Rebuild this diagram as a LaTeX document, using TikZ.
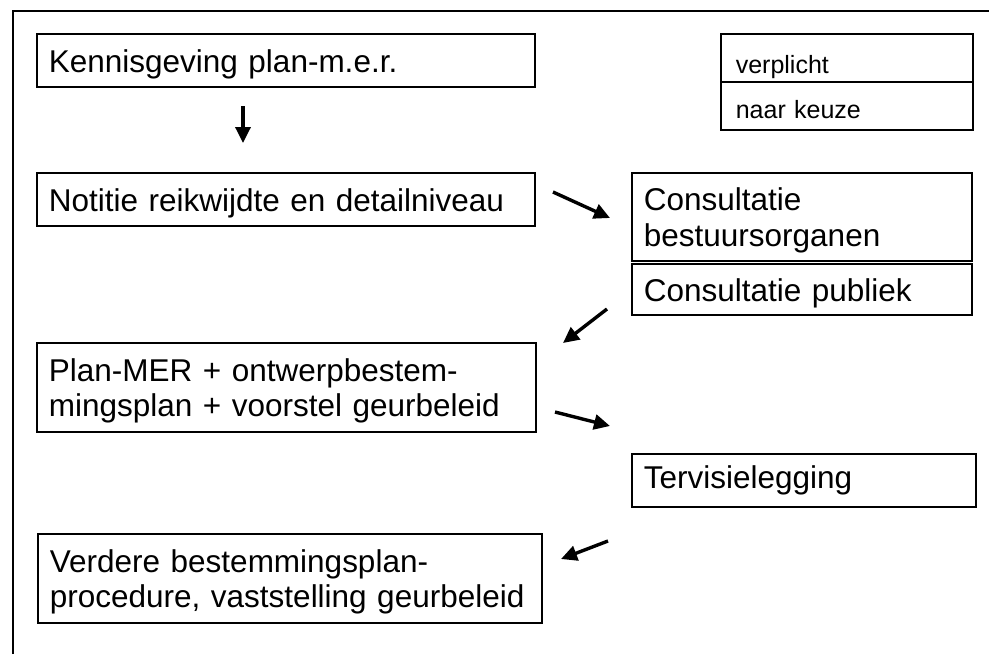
\documentclass[tikz,border=0pt]{standalone}
\usepackage{fontspec}
\setmainfont{Liberation Sans}
\usetikzlibrary{arrows.meta}
\newcommand{\topstrut}[1]{\rule{0pt}{#1}}
\begin{document}
\begin{tikzpicture}[x=1pt,y=-1pt,
  stepbox/.style={draw, line width=1.8pt, anchor=north west, align=left,
    inner xsep=12pt, inner ysep=0pt,
    font=\fontsize{31.5}{35.5}\selectfont},
  keybox/.style={draw, line width=1.6pt, anchor=north west, align=left,
    inner xsep=15pt, inner ysep=0pt, text width=222pt, minimum height=48pt,
    font=\fontsize{25}{28}\selectfont},
  flow/.style={line width=3.4pt, -{Triangle[length=16pt,width=15pt]}}]
\useasboundingbox (0,0) rectangle (989,654);
% outer frame
\draw[line width=1.8pt] (13,654) -- (13,11) -- (989,11);
% legend
\node[keybox] (verplicht) at (720,33) {\topstrut{36pt}verplicht};
\node[keybox] (keuze) at (720,81) {\topstrut{26pt}naar keuze};
% left column
\node[stepbox, text width=474pt, minimum height=53pt] (kenn) at (36,33) {\topstrut{30pt}Kennisgeving plan-m.e.r.};
\node[stepbox, text width=474pt, minimum height=53pt] (noti) at (36,172) {\topstrut{31pt}Notitie reikwijdte en detailniveau};
\node[stepbox, text width=475pt, minimum height=89pt] (plan) at (36,342) {\topstrut{29.5pt}Plan-MER + ontwerpbestem-\\mingsplan + voorstel geurbeleid};
\node[stepbox, text width=480pt, minimum height=89pt] (verd) at (37,533) {\topstrut{30pt}Verdere bestemmingsplan-\\procedure, vaststelling geurbeleid};
% right column
\node[stepbox, text width=316pt, minimum height=88pt] (cbest) at (631,172) {\topstrut{30pt}Consultatie\\bestuursorganen};
\node[stepbox, text width=316pt, minimum height=51pt] (cpub) at (631,263) {\topstrut{30pt}Consultatie publiek};
\node[stepbox, text width=320pt, minimum height=53pt] (terv) at (631,453) {Tervisielegging};
% arrow end points
\coordinate (a1s) at (243,106);
\coordinate (a1e) at (243,143);
\coordinate (a2s) at (553,192);
\coordinate (a2e) at (610,218);
\coordinate (a3s) at (607,309);
\coordinate (a3e) at (563,343);
\coordinate (a4s) at (555,412);
\coordinate (a4e) at (610,426);
\coordinate (a5s) at (608,541);
\coordinate (a5e) at (561,559);
\draw[flow] (a1s) -- (a1e);
\draw[flow] (a2s) -- (a2e);
\draw[flow] (a3s) -- (a3e);
\draw[flow] (a4s) -- (a4e);
\draw[flow] (a5s) -- (a5e);
\end{tikzpicture}
\end{document}
